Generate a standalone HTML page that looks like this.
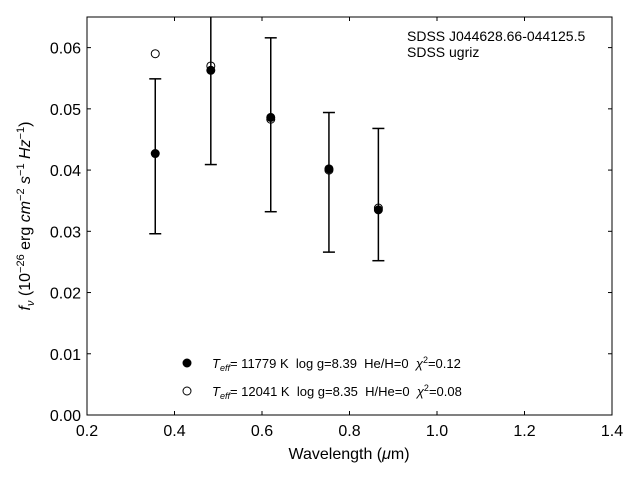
<!DOCTYPE html>
<html><head><meta charset="utf-8"><style>
body{margin:0;background:#fff}
svg{font-family:"Liberation Sans","DejaVu Sans",sans-serif}
</style></head><body>
<svg id="c" width="640" height="480">
<rect x="0" y="0" width="640" height="480" fill="#fff"/>
</svg>
<script>
const xTicks=[0.2,0.4,0.6,0.8,1.0,1.2,1.4];
const yTicks=[0,0.01,0.02,0.03,0.04,0.05,0.06];
const wavelengths=[0.356,0.483,0.620,0.753,0.866];
const observed=[0.0427,0.0563,0.0486,0.0402,0.0335];
const errHigh=[0.0549,0.0717,0.0616,0.0494,0.0468];
const errLow=[0.0296,0.0409,0.0332,0.0266,0.0252];
const modelH=[0.0590,0.0570,0.0483,0.0400,0.0338];
const L=87,R=612,T=17,B=415;
const sx=v=>L+(v-0.2)/(1.2)*(R-L);
const sy=v=>B-v/0.065*(B-T);
const svg=document.getElementById('c');
const NS='http://www.w3.org/2000/svg';
function mk(t,a,p){const e=document.createElementNS(NS,t);for(const k in a)e.setAttribute(k,a[k]);(p||svg).appendChild(e);return e;}
const defs=mk('defs',{});const cp=mk('clipPath',{id:'clip'},defs);mk('rect',{x:L,y:T,width:R-L,height:B-T},cp);
const frame=mk('rect',{x:L,y:T,width:R-L,height:B-T,fill:'none',stroke:'#000','stroke-width':1});


xTicks.forEach(v=>{const x=sx(v);
mk('line',{x1:x,x2:x,y1:B,y2:B-4,stroke:'#000'});mk('line',{x1:x,x2:x,y1:T,y2:T+4,stroke:'#000'});
const t=mk('text',{x:x,y:B+21,'font-size':16,'text-anchor':'middle'});t.textContent=v.toFixed(1);

});
yTicks.forEach(v=>{const y=sy(v);
mk('line',{x1:L,x2:L+4,y1:y,y2:y,stroke:'#000'});mk('line',{x1:R,x2:R-4,y1:y,y2:y,stroke:'#000'});
const t=mk('text',{x:L-6,y:y+6,'font-size':16,'text-anchor':'end'});t.textContent=v.toFixed(2);

});
const g=mk('g',{'clip-path':'url(#clip)'});
wavelengths.forEach((w,i)=>{const x=sx(w),y1=sy(errHigh[i]),y2=sy(errLow[i]);
const eb=mk('g',{},g);


mk('line',{x1:x,x2:x,y1:y1,y2:y2,stroke:'#000','stroke-width':1.5},eb);
mk('line',{x1:x-6,x2:x+6,y1:y1,y2:y1,stroke:'#000','stroke-width':1.5},eb);
mk('line',{x1:x-6,x2:x+6,y1:y2,y2:y2,stroke:'#000','stroke-width':1.5},eb);
const p=mk('circle',{cx:x,cy:sy(observed[i]),r:4,fill:'#000',stroke:'#000'},g);


const q=mk('circle',{cx:x,cy:sy(modelH[i]),r:4,fill:'none',stroke:'#000'},g);

});
</script>
<svg width="640" height="480" style="position:absolute;left:0;top:0">
<text x="349" y="459" font-size="16" text-anchor="middle">Wavelength (<tspan font-style="italic">μ</tspan>m)</text>
<text transform="translate(30,216) rotate(-90)" font-size="16" text-anchor="middle"><tspan font-style="italic">f<tspan font-size="11" dy="4">ν</tspan></tspan><tspan dy="-4"> (10</tspan><tspan font-size="11" dy="-6">−26</tspan><tspan dy="6"> erg </tspan><tspan font-style="italic">cm</tspan><tspan font-size="11" dy="-6">−2</tspan><tspan dy="6" font-style="italic"> s</tspan><tspan font-size="11" dy="-6">−1</tspan><tspan dy="6" font-style="italic"> Hz</tspan><tspan font-size="11" dy="-6">−1</tspan><tspan dy="6">)</tspan></text>
<text x="407" y="41" font-size="14">SDSS J044628.66-044125.5</text>
<text x="407" y="57" font-size="14">SDSS ugriz</text>
<g style="white-space:pre">
<circle cx="187" cy="363" r="4" fill="#000" stroke="#000"/>
<text x="212" y="368" font-size="13" xml:space="preserve"><tspan font-style="italic">T<tspan font-size="9" dy="3">eff</tspan></tspan><tspan dy="-3">= 11779 K  log g=8.39  He/H=0  </tspan><tspan font-style="italic">χ</tspan><tspan font-size="9" dy="-5">2</tspan><tspan dy="5">=0.12</tspan></text>
<circle cx="187" cy="391" r="4" fill="none" stroke="#000"/>
<text x="212" y="396" font-size="13" xml:space="preserve"><tspan font-style="italic">T<tspan font-size="9" dy="3">eff</tspan></tspan><tspan dy="-3">= 12041 K  log g=8.35  H/He=0  </tspan><tspan font-style="italic">χ</tspan><tspan font-size="9" dy="-5">2</tspan><tspan dy="5">=0.08</tspan></text>
</g>
</svg>
</body></html>
